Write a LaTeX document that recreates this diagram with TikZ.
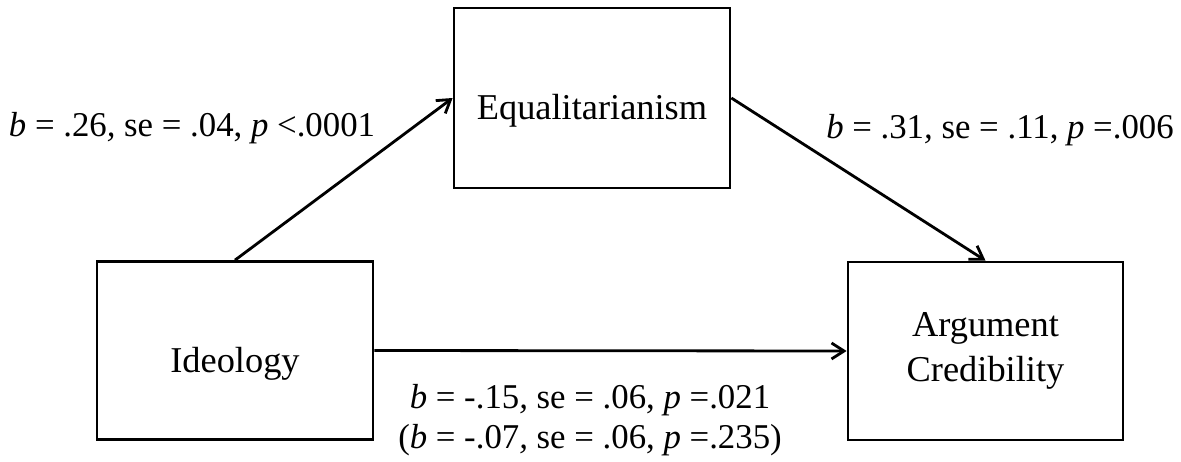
\documentclass[tikz,border=0pt]{standalone}
\usepackage{fontspec}
\setmainfont{Liberation Serif}
\usetikzlibrary{arrows.meta,positioning}

\begin{document}
\begin{tikzpicture}[
  x=0.02cm,y=0.02cm,
  var/.style={draw=black,line width=1.6pt,minimum width=5.52cm,minimum height=3.56cm,align=center,
    font=\fontsize{20.7}{26}\selectfont,inner sep=0pt},
  low/.style={text height=0.88cm,text depth=0pt},
  coef/.style={font=\fontsize{19.8}{22.5}\selectfont,align=center,inner sep=0pt},
  arr/.style={-{Straight Barb[length=2.5mm,width=3.2mm]},line width=1.6pt}]
\useasboundingbox (0,0) rectangle (1181,461);
\node[var,low] (ideo) at (235,110.5) {Ideology};
\node[var,low,minimum height=3.6cm] (eq) at (592,363) {Equalitarianism};
\node[var,minimum width=5.5cm] (arg) at (985.5,110) {Argument\\Credibility};
\draw[arr] (ideo.north) -- (eq.west);
\draw[arr] (eq.east) -- (arg.north);
\draw[arr] (ideo.east) -- (arg.west);
\node[coef] (ab) at (192,333) {\textit{b} = .26\textit{,} se = .04, \textit{p} <.0001};
\node[coef] (bb) at (1000,331) {\textit{b} = .31\textit{,} se = .11, \textit{p} =.006};
\node[coef] (cb) at (590,41) {\textit{b} = -.15\textit{,} se = .06, \textit{p} =.021\\(\textit{b} = -.07\textit{,} se = .06, \textit{p} =.235)};
\end{tikzpicture}
\end{document}
